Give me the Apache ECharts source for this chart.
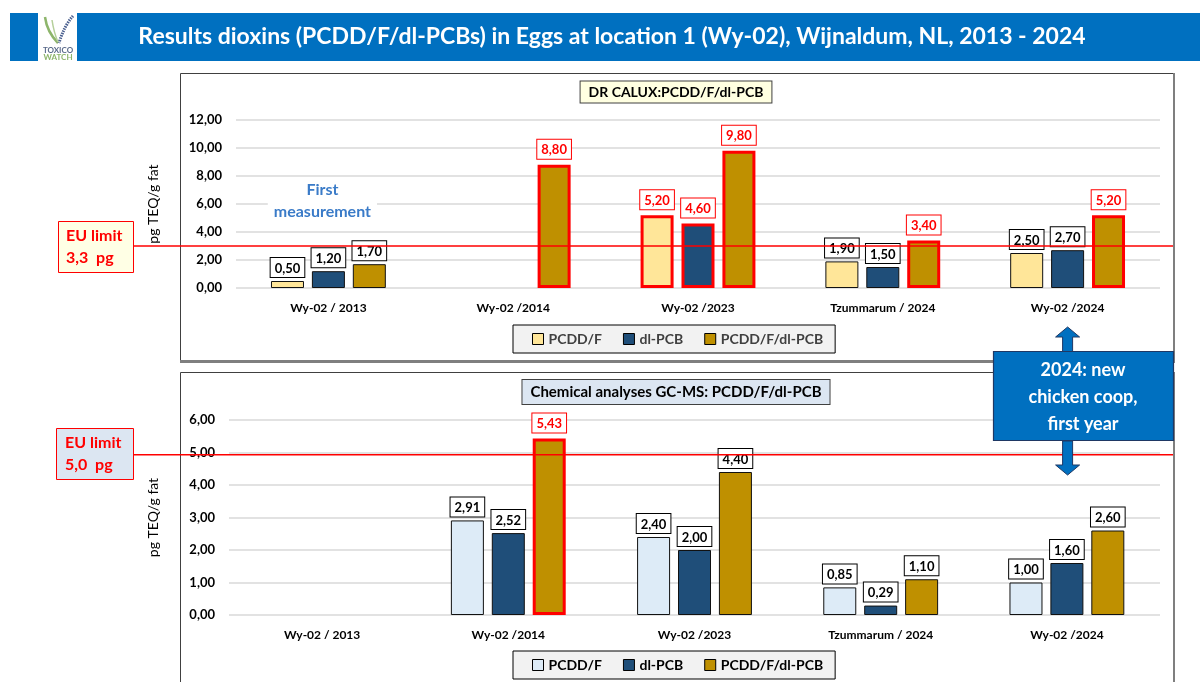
<!DOCTYPE html>
<html><head><meta charset="utf-8">
<script src="https://cdn.jsdelivr.net/npm/echarts@6/dist/echarts.min.js"></script>
<style>html,body{margin:0;padding:0;background:#fff}#c{width:1200px;height:682px}</style>
</head><body><div id="c"></div>
<script>
// ---- data ----
const categories = ['Wy-02 / 2013', 'Wy-02 /2014', 'Wy-02 /2023', 'Tzummarum / 2024', 'Wy-02 /2024'];
const seriesNames = ['PCDD/F', 'dl-PCB', 'PCDD/F/dl-PCB'];
const caluxPcddf = [0.50, null, 5.20, 1.90, 2.50];
const caluxDlpcb = [1.20, null, 4.60, 1.50, 2.70];
const caluxTotal = [1.70, 8.80, 9.80, 3.40, 5.20];
const gcmsPcddf = [null, 2.91, 2.40, 0.85, 1.00];
const gcmsDlpcb = [null, 2.52, 2.00, 0.29, 1.60];
const gcmsTotal = [null, 5.43, 4.40, 1.10, 2.60];
const caluxLimit = 3.3;        // EU limit value (label)
const gcmsLimit = 5.0;
const caluxLimitLine = 3.0;    // where the limit line is drawn in the original
const gcmsLimitLine = 4.93;
const caluxAxis = { min: 0, max: 12, interval: 2 };
const gcmsAxis = { min: 0, max: 6, interval: 1 };
const axisName = 'pg TEQ/g fat';

// ---- styling ----
const FONT = 'Lato, "Open Sans", sans-serif';
const topColors = ['#FFE699', '#1F4E79', '#BF9000'];
const botColors = ['#DDEBF7', '#1F4E79', '#BF9000'];
const fmt = v => (v == null ? '' : Number(v).toFixed(2).replace('.', ','));

function mkSeries(name, values, color, idx, limit) {
  return {
    type: 'bar', name, xAxisIndex: idx, yAxisIndex: idx,
    barWidth: 33, barGap: '24%',
    data: values.map(v => v == null ? null : (v > limit ? {
      value: v,
      itemStyle: { borderColor: '#FF0000', borderWidth: 3 },
      label: { color: '#FF0000', borderColor: '#FF0000', distance: 6 }
    } : v)),
    itemStyle: { color, borderColor: '#111', borderWidth: 1 },
    label: {
      show: true, position: 'top', distance: 4,
      formatter: p => fmt(p.value),
      fontFamily: FONT, fontWeight: 'bold', fontSize: 13, color: '#000',
      backgroundColor: '#fff', borderColor: '#000', borderWidth: 1,
      padding: [4, 4, 2, 4]
    }
  };
}

const yAxisBase = (idx, ax, gap) => ({
  gridIndex: idx, type: 'value', min: ax.min, max: ax.max, interval: ax.interval,
  splitLine: { lineStyle: { color: '#D9D9D9', width: 1.5 } },
  axisLine: { show: false }, axisTick: { show: false },
  axisLabel: { formatter: v => fmt(v), fontFamily: FONT, fontWeight: 'bold', fontSize: 13, color: '#000', margin: 14 },
  name: axisName, nameLocation: 'middle', nameGap: gap, nameRotate: 90,
  nameTextStyle: { fontFamily: FONT, fontSize: 14, color: '#000', padding: [0, 0, 0, 0] }
});
const xAxisBase = idx => ({
  gridIndex: idx, type: 'category', data: categories,
  axisLine: { show: false }, axisTick: { show: false },
  axisLabel: { fontFamily: FONT, fontWeight: 'bold', fontSize: 12, color: '#000', margin: 14 }
});
const legendBase = (top, colors, textColor) => ({
  left: 513, top, icon: 'rect', itemWidth: 11, itemHeight: 11, itemGap: 21,
  backgroundColor: '#F2F2F2', borderColor: '#000', borderWidth: 1,
  padding: [7, 12, 7, 19],
  itemStyle: { borderColor: '#000', borderWidth: 1 },
  textStyle: { fontFamily: FONT, fontWeight: 'bold', fontSize: 14, color: textColor },
  data: seriesNames.map((n, i) => ({ name: n, itemStyle: { color: colors[i] } }))
});

const chart = echarts.init(document.getElementById('c'), null, { renderer: 'canvas' });
chart.setOption({
  animation: false,
  textStyle: { fontFamily: FONT },
  grid: [
    { left: 236, right: 40, top: 120, height: 168 },
    { left: 229, right: 40, top: 420, height: 195 }
  ],
  xAxis: [xAxisBase(0), xAxisBase(1)],
  yAxis: [yAxisBase(0, caluxAxis, 76), yAxisBase(1, gcmsAxis, 69)],
  legend: [legendBase(325, topColors, '#404040'), legendBase(651, botColors, '#000')],
  series: [
    mkSeries(seriesNames[0], caluxPcddf, topColors[0], 0, caluxLimit),
    mkSeries(seriesNames[1], caluxDlpcb, topColors[1], 0, caluxLimit),
    mkSeries(seriesNames[2], caluxTotal, topColors[2], 0, caluxLimit),
    mkSeries(seriesNames[0], gcmsPcddf, botColors[0], 1, gcmsLimit),
    mkSeries(seriesNames[1], gcmsDlpcb, botColors[1], 1, gcmsLimit),
    mkSeries(seriesNames[2], gcmsTotal, botColors[2], 1, gcmsLimit)
  ]
});

// ---- annotations positioned through the chart's own scales ----
const yTopLine = chart.convertToPixel({ yAxisIndex: 0 }, caluxLimitLine);
const yBotLine = chart.convertToPixel({ yAxisIndex: 1 }, gcmsLimitLine);
const xFirst = chart.convertToPixel({ xAxisIndex: 0 }, 0);
const xLast = chart.convertToPixel({ xAxisIndex: 0 }, 4);
const limitTxt = v => v.toFixed(1).replace('.', ',') + '  pg';

const g = [];
// header
g.push({ type: 'rect', shape: { x: 10, y: 13, width: 1190, height: 48 }, style: { fill: '#0070C0' }, z: 1 });
g.push({ type: 'rect', shape: { x: 38, y: 13, width: 39, height: 48 }, style: { fill: '#fff' }, z: 2 });
// logo fern
g.push({ type: 'bezierCurve', shape: { x1: 45, y1: 17, x2: 58, y2: 43, cpx1: 47, cpy1: 32 }, style: { stroke: '#8DB56B', lineWidth: 2.5, fill: null }, z: 3 });
g.push({ type: 'bezierCurve', shape: { x1: 73, y1: 16, x2: 59, y2: 43, cpx1: 64, cpy1: 26 }, style: { stroke: '#4A5F8F', lineWidth: 3, lineDash: [1.5, 1], fill: null }, z: 3 });
g.push({ type: 'bezierCurve', shape: { x1: 52, y1: 20, x2: 58, y2: 42, cpx1: 54, cpy1: 33 }, style: { stroke: '#B5CF9A', lineWidth: 1.5, fill: null }, z: 3 });
g.push({ type: 'text', style: { text: 'TOXICO', x: 58, y: 50, align: 'center', verticalAlign: 'middle', font: 'bold 8px ' + FONT, fill: '#5A6A8A' }, z: 3 });
g.push({ type: 'text', style: { text: 'WATCH', x: 58, y: 57, align: 'center', verticalAlign: 'middle', font: 'bold 8px ' + FONT, fill: '#8DB56B' }, z: 3 });
g.push({ type: 'text', style: { text: 'Results dioxins (PCDD/F/dl-PCBs) in Eggs at location 1 (Wy-02), Wijnaldum, NL, 2013 - 2024', x: 612, y: 37, align: 'center', verticalAlign: 'middle', font: 'bold 23px ' + FONT, fill: '#fff' }, z: 3 });

// panels
g.push({ type: 'rect', shape: { x: 180.5, y: 73.5, width: 993, height: 288 }, style: { fill: null, stroke: '#404040', lineWidth: 1 }, z: 1 });
g.push({ type: 'line', shape: { x1: 1174, y1: 73, x2: 1174, y2: 362 }, style: { stroke: '#7F7F7F', lineWidth: 2 }, z: 1 });
g.push({ type: 'line', shape: { x1: 180, y1: 361.5, x2: 1175, y2: 361.5 }, style: { stroke: '#7F7F7F', lineWidth: 3 }, z: 1 });
g.push({ type: 'rect', shape: { x: 180.5, y: 372.5, width: 993, height: 330 }, style: { fill: null, stroke: '#404040', lineWidth: 1 }, z: 1 });
g.push({ type: 'line', shape: { x1: 1174, y1: 372, x2: 1174, y2: 682 }, style: { stroke: '#7F7F7F', lineWidth: 2 }, z: 1 });

// panel titles
g.push({ type: 'text', style: { text: 'DR CALUX:PCDD/F/dl-PCB', x: 676, y: 92, align: 'center', verticalAlign: 'middle', font: 'bold 14px ' + FONT, fill: '#000', backgroundColor: '#FFFFE1', borderColor: '#404040', borderWidth: 1, padding: [4, 8, 3, 8] }, z: 5 });
g.push({ type: 'text', style: { text: 'Chemical analyses GC-MS: PCDD/F/dl-PCB', x: 676, y: 392, align: 'center', verticalAlign: 'middle', font: 'bold 15px ' + FONT, fill: '#000', backgroundColor: '#DCE6F2', borderColor: '#404040', borderWidth: 1, padding: [5, 8, 4, 8] }, z: 5 });

// EU limit lines and boxes
g.push({ type: 'line', shape: { x1: 133, y1: yTopLine, x2: 1173, y2: yTopLine }, style: { stroke: '#FF0000', lineWidth: 1.5 }, z: 20 });
g.push({ type: 'line', shape: { x1: 133, y1: yBotLine, x2: 1173, y2: yBotLine }, style: { stroke: '#FF0000', lineWidth: 1.5 }, z: 20 });
g.push({ type: 'rect', shape: { x: 58.5, y: Math.round(yTopLine - 25) + 0.5, width: 75, height: 51 }, style: { fill: '#FFFFE5', stroke: '#FF0000', lineWidth: 1 }, z: 21 });
g.push({ type: 'text', style: { text: 'EU limit\n' + limitTxt(caluxLimit), x: 66, y: yTopLine + 1, align: 'left', verticalAlign: 'middle', lineHeight: 22, font: 'bold 16px ' + FONT, fill: '#FF0000' }, z: 22 });
g.push({ type: 'rect', shape: { x: 56.5, y: Math.round(yBotLine - 27) + 0.5, width: 77, height: 51 }, style: { fill: '#DCE6F2', stroke: '#FF0000', lineWidth: 1 }, z: 21 });
g.push({ type: 'text', style: { text: 'EU limit\n' + limitTxt(gcmsLimit), x: 65, y: yBotLine - 1, align: 'left', verticalAlign: 'middle', lineHeight: 22, font: 'bold 16px ' + FONT, fill: '#FF0000' }, z: 22 });

// first measurement note
g.push({ type: 'text', style: { text: 'First\nmeasurement', x: xFirst - 6, y: 201, align: 'center', verticalAlign: 'middle', lineHeight: 22, font: 'bold 16px ' + FONT, fill: '#3A7BC8', backgroundColor: '#fff', padding: [2, 6, 2, 6] }, z: 10 });

// callout with double arrow
const ax = xLast;
g.push({ type: 'polygon', shape: { points: [[ax - 5, 352], [ax - 5, 337], [ax - 12, 337], [ax, 327], [ax + 12, 337], [ax + 5, 337], [ax + 5, 352]] }, style: { fill: '#0070C0', stroke: '#1F3864', lineWidth: 1 }, z: 30 });
g.push({ type: 'polygon', shape: { points: [[ax - 5, 441], [ax - 5, 465], [ax - 12, 465], [ax, 475], [ax + 12, 465], [ax + 5, 465], [ax + 5, 441]] }, style: { fill: '#0070C0', stroke: '#1F3864', lineWidth: 1 }, z: 30 });
g.push({ type: 'rect', shape: { x: 993.5, y: 351.5, width: 180, height: 89 }, style: { fill: '#0070C0', stroke: '#1F3864', lineWidth: 1.2 }, z: 31 });
g.push({ type: 'text', style: { text: '2024: new\nchicken coop,\nfirst year', x: 1083, y: 397, align: 'center', verticalAlign: 'middle', lineHeight: 27, font: 'bold 18px ' + FONT, fill: '#fff' }, z: 32 });

chart.setOption({ graphic: { elements: g } });
</script>
</body></html>
